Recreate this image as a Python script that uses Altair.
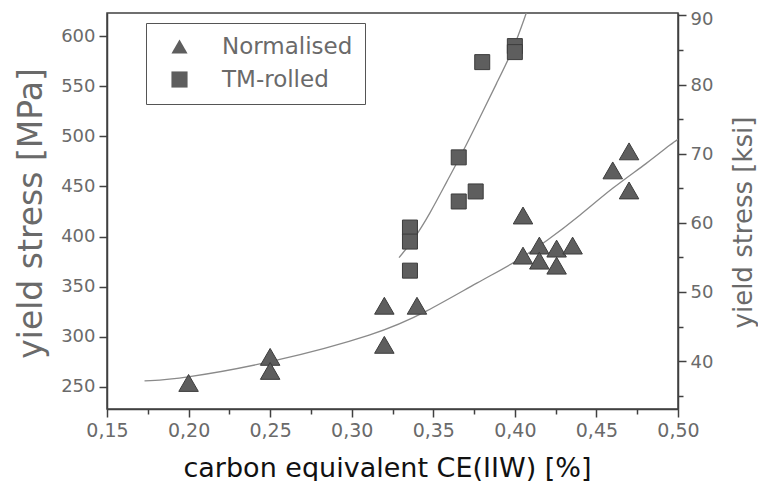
import altair as alt
import pandas as pd

# ---- data ----
norm_x = [0.20, 0.25, 0.25, 0.32, 0.32, 0.34, 0.405, 0.405, 0.415, 0.415, 0.4256, 0.4256, 0.4354, 0.46, 0.47, 0.47]
norm_y = [254, 280, 266, 331, 292, 331, 421, 381, 391, 376, 388, 371, 391, 466, 485, 446]

tm_x = [0.3357, 0.3357, 0.3357, 0.3656, 0.3656, 0.376, 0.380, 0.400, 0.400]
tm_y = [409, 395, 366, 479, 435, 445, 574, 590, 584]

norm_fit_x = [0.173, 0.195, 0.251, 0.317, 0.345, 0.379, 0.399, 0.420, 0.440, 0.460, 0.481, 0.497, 0.500]
norm_fit_y = [256, 258, 274, 303, 324, 356, 373, 396, 421, 449, 473, 494, 497]

tm_fit_x = [0.329, 0.3377, 0.348, 0.358, 0.368, 0.3786, 0.3888, 0.399, 0.407]
tm_fit_y = [379, 396, 423, 454, 484, 519, 553, 586, 623]

series_names = ["Normalised", "TM-rolled"]
x_ticks = [0.15, 0.175, 0.20, 0.225, 0.25, 0.275, 0.30, 0.325, 0.35, 0.375, 0.40, 0.425, 0.45, 0.475, 0.50]
mpa_ticks = [250, 275, 300, 325, 350, 375, 400, 425, 450, 475, 500, 525, 550, 575, 600]
ksi_ticks = [35, 40, 45, 50, 55, 60, 65, 70, 75, 80, 85, 90]
MPA_PER_KSI = 6.895
mpa_domain = [228, 623]
x_domain = [0.15, 0.50]

norm_df = pd.DataFrame({"ce": norm_x, "ys": norm_y, "series": series_names[0]})
tm_df = pd.DataFrame({"ce": tm_x, "ys": tm_y, "series": series_names[1]})
fits = pd.DataFrame({
    "ce": norm_fit_x + tm_fit_x,
    "ys": norm_fit_y + tm_fit_y,
    "series": [series_names[0]] * len(norm_fit_x) + [series_names[1]] * len(tm_fit_x),
})
ksi_df = pd.DataFrame({"ksi": ksi_ticks})

FONT = "DejaVu Sans"
AX = "#404040"
LAB = "#6a6a6a"
MARK_FILL = "#5e5e5e"
MARK_STROKE = "#3c3c3c"

xscale = alt.Scale(domain=x_domain, nice=False, zero=False)
yscale = alt.Scale(domain=mpa_domain, nice=False, zero=False)

x_axis = alt.Axis(
    values=x_ticks,
    labelExpr="abs(datum.value*20 - round(datum.value*20)) < 0.001 ? replace(format(datum.value, '.2f'), '.', ',') : ''",
    tickSize={"condition": {"test": "abs(datum.value*20 - round(datum.value*20)) < 0.001", "value": 8}, "value": 5},
    title="carbon equivalent CE(IIW) [%]",
    titleFont=FONT, titleFontSize=27, titleColor="#111111", titleFontWeight="normal",
    titleX=280, titleY=67, titleAnchor="middle", titleAlign="center", titleBaseline="alphabetic",
    labelFont=FONT, labelFontSize=19, labelColor=LAB, labelPadding=4,
    domainColor=AX, tickColor=AX, domainWidth=1.5, tickWidth=1.5, grid=False,
    labelOverlap=False, labelFlush=False,
)

y_axis = alt.Axis(
    values=mpa_ticks,
    labelExpr="datum.value % 50 == 0 ? format(datum.value, 'd') : ''",
    tickSize={"condition": {"test": "datum.value % 50 == 0", "value": 8}, "value": 5},
    title="yield stress [MPa]",
    titleFont=FONT, titleFontSize=33, titleColor="#6a6a6a", titleFontWeight="normal",
    titleAngle=270, titleX=-76, titleY=200, titleAlign="center", titleBaseline="middle",
    labelFont=FONT, labelFontSize=18, labelColor=LAB, labelPadding=4,
    domainColor=AX, tickColor=AX, domainWidth=1.5, tickWidth=1.5, grid=False,
    labelOverlap=False, labelFlush=False,
)

ksi_axis = alt.Axis(
    orient="right",
    values=ksi_ticks,
    labelExpr="datum.value % 10 == 0 ? format(datum.value, 'd') : ''",
    tickSize={"condition": {"test": "datum.value % 10 == 0", "value": 8}, "value": 5},
    labelOffset={"condition": {"test": "datum.value == 90", "value": 4}, "value": 1},
    title="yield stress [ksi]",
    titleFont=FONT, titleFontSize=26, titleColor="#6a6a6a", titleFontWeight="normal",
    titleAngle=270, titleX=65, titleY=209, titleAlign="center", titleBaseline="middle",
    labelFont=FONT, labelFontSize=18, labelColor=LAB, labelPadding=4,
    domainColor=AX, tickColor=AX, domainWidth=1.5, tickWidth=1.5, grid=False,
    labelOverlap=False, labelFlush=False,
)

legend = alt.Legend(
    orient="none", legendX=39, legendY=10, title=None,
    strokeColor="#555555", fillColor="white", padding=12,
    symbolOffset=10, labelOffset=31, rowPadding=9,
    labelFont=FONT, labelFontSize=23, labelColor="#6a6a6a",
    symbolSize=260, symbolFillColor=MARK_FILL, symbolStrokeColor=MARK_STROKE,
    symbolStrokeWidth=1, symbolOpacity=1,
)

shape_scale = alt.Scale(domain=series_names, range=["triangle-up", "square"])

lines = alt.Chart(fits).mark_line(color="#8a8a8a", strokeWidth=1.3, interpolate="basis", clip=True).encode(
    x=alt.X("ce:Q", scale=xscale, axis=x_axis),
    y=alt.Y("ys:Q", scale=yscale, axis=y_axis),
    detail="series:N",
)

tri = alt.Chart(norm_df).mark_point(filled=True, opacity=1, size=380, color=MARK_FILL, stroke=MARK_STROKE, strokeWidth=1).encode(
    x=alt.X("ce:Q", scale=xscale),
    y=alt.Y("ys:Q", scale=yscale),
    shape=alt.Shape("series:N", scale=shape_scale, legend=legend),
)

sq = alt.Chart(tm_df).mark_point(filled=True, opacity=1, size=225, color=MARK_FILL, stroke=MARK_STROKE, strokeWidth=1).encode(
    x=alt.X("ce:Q", scale=xscale),
    y=alt.Y("ys:Q", scale=yscale),
    shape=alt.Shape("series:N", scale=shape_scale, legend=legend),
)

right = alt.Chart(ksi_df).mark_point(opacity=0).encode(
    y=alt.Y("ksi:Q", scale=alt.Scale(domain=[mpa_domain[0] / MPA_PER_KSI, mpa_domain[1] / MPA_PER_KSI], nice=False, zero=False), axis=ksi_axis),
)

left = alt.layer(lines, tri, sq)

chart = alt.layer(left, right).resolve_scale(y="independent").properties(
    width=571, height=396,
    autosize=alt.AutoSizeParams(type="none"),
    padding={"left": 99, "top": 5, "right": 80, "bottom": 72},
    background="white",
).configure_view(stroke=AX, strokeWidth=1.5)

chart.save("out.html", embed_options={"renderer": "svg", "actions": False})
